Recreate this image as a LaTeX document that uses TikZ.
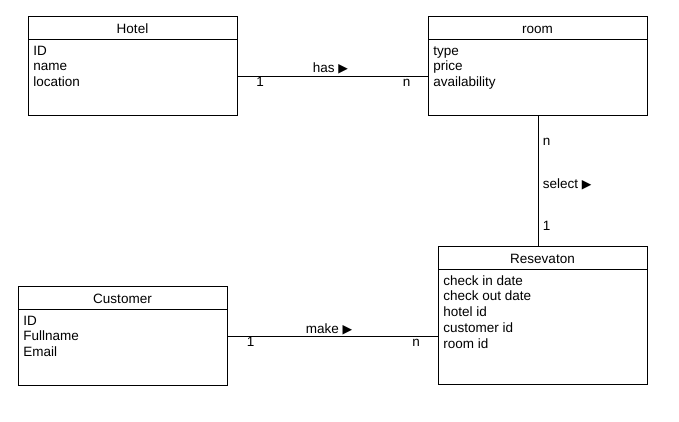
\documentclass[tikz,border=0pt]{standalone}
\usepackage{fontspec}
\setmainfont{Liberation Sans}
\newfontfamily\symfont{DejaVu Sans}
\usetikzlibrary{positioning}

\tikzset{
  entity/.style={draw, anchor=north west, inner sep=0pt},
  lbl/.style={font=\fontsize{13.5}{15.75}\selectfont, inner sep=0pt},
}
\newcommand{\dirArrow}{{\symfont\fontsize{12.5}{12.5}\selectfont ▶}}

\begin{document}
\begin{tikzpicture}[x=1pt, y=-1pt, line width=0.9pt]
  \useasboundingbox (0,0) rectangle (679,421);
  % entities
  \node[entity, minimum width=209pt, minimum height=99pt] (hotel) at (28,16) {};
  \node[entity, minimum width=219pt, minimum height=99pt] (room) at (428,16) {};
  \node[entity, minimum width=209pt, minimum height=138pt] (resv) at (438,246) {};
  \node[entity, minimum width=209pt, minimum height=99pt] (customer) at (18,286) {};
  \draw (hotel.west |- 0,39) -- (hotel.east |- 0,39);
  \draw (room.west |- 0,39) -- (room.east |- 0,39);
  \draw (resv.west |- 0,269) -- (resv.east |- 0,269);
  \draw (customer.west |- 0,309) -- (customer.east |- 0,309);
  \node[lbl, anchor=base] (hotelTitle) at (132.5,33.5) {Hotel};
  \node[lbl, anchor=base] (roomTitle) at (537.5,33.5) {room};
  \node[lbl, anchor=base] (resvTitle) at (542.5,263.5) {Resevaton};
  \node[lbl, anchor=base] (customerTitle) at (122.5,303.5) {Customer};
  % attributes
  \foreach \txt [count=\i from 0] in {ID, name, location}
    \node[lbl, anchor=base west] (hotelAttr\i) at (33,55+15.75*\i) {\txt};
  \foreach \txt [count=\i from 0] in {type, price, availability}
    \node[lbl, anchor=base west] (roomAttr\i) at (433,55+15.75*\i) {\txt};
  \foreach \txt [count=\i from 0] in {check in date, check out date, hotel id, customer id, room id}
    \node[lbl, anchor=base west] (resvAttr\i) at (443,285+15.75*\i) {\txt};
  \foreach \txt [count=\i from 0] in {ID, Fullname, Email}
    \node[lbl, anchor=base west] (customerAttr\i) at (23,325+15.75*\i) {\txt};
  % relations
  \coordinate (hasY) at (0,76);
  \coordinate (makeY) at (0,336);
  \draw (hotel.east |- hasY) -- (room.west |- hasY);
  \draw (room.south) -- (resv.north -| room.south);
  \draw (customer.east |- makeY) -- (resv.west |- makeY);
  \node[lbl, anchor=base] (hasLbl) at (330.5,72.5) {has \dirArrow};
  \node[lbl, anchor=base] (hasOne) at (260,86.5) {1};
  \node[lbl, anchor=base] (hasMany) at (406.5,86.5) {n};
  \node[lbl, anchor=base west] (selectMany) at (542.5,145) {n};
  \node[lbl, anchor=base west] (selectLbl) at (542.5,188) {select \dirArrow};
  \node[lbl, anchor=base west] (selectOne) at (542.5,230.5) {1};
  \node[lbl, anchor=base] (makeLbl) at (329,333) {make \dirArrow};
  \node[lbl, anchor=base] (makeOne) at (250.5,346.5) {1};
  \node[lbl, anchor=base] (makeMany) at (416,346.5) {n};
\end{tikzpicture}
\end{document}
